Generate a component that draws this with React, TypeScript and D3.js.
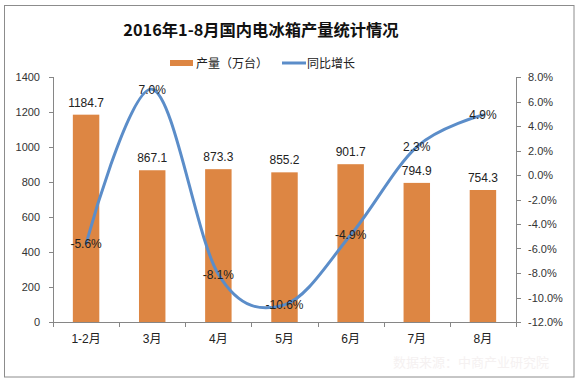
import React from "react";
import * as d3 from "d3";

const categories = ["1-2月", "3月", "4月", "5月", "6月", "7月", "8月"];
const output = [1184.7, 867.1, 873.3, 855.2, 901.7, 794.9, 754.3];
const growth = [-5.6, 7.0, -8.1, -10.6, -4.9, 2.3, 4.9];
const leftTicks = [0, 200, 400, 600, 800, 1000, 1200, 1400];
const rightTicks = [-12, -10, -8, -6, -4, -2, 0, 2, 4, 6, 8];
const title = "2016年1-8月国内电冰箱产量统计情况";
const legendBar = "产量（万台）";
const legendLine = "同比增长";
const source = "数据来源：中商产业研究院";

const W = 580, H = 383;
const L = 53, R = 516, T = 77, B = 322;
const barColor = "#DD8643";
const lineColor = "#5B8DC9";
const axisColor = "#868686";
const numFont = "'Liberation Sans', Arial, sans-serif";
const cjkFont = "'Liberation Sans', 'Noto Sans CJK SC', sans-serif";

export default function App() {
  const x = d3.scaleBand<string>().domain(categories).range([L, R]).paddingInner(0.6).paddingOuter(0.3);
  const band = d3.scaleBand<string>().domain(categories).range([L, R]);
  const yL = d3.scaleLinear().domain([0, 1400]).range([B, T]);
  const yR = d3.scaleLinear().domain([-12, 8]).range([B, T]);
  const pts: [number, number][] = growth.map((g, i) => [
    (band(categories[i]) as number) + band.bandwidth() / 2,
    yR(g),
  ]);
  const line = d3.line().curve(d3.curveCardinal.tension(0))(pts) || "";

  return (
    <svg width={W} height={H} style={{ position: "absolute", left: 0, top: 0, background: "#fff" }}>
      <rect x={4.5} y={5.5} width={569.5} height={371.5} fill="#fff" stroke="#8c8c8c" strokeWidth={1} />
      <text x={261} y={35.5} textAnchor="middle" fontFamily="'Noto Sans CJK SC', sans-serif" fontWeight="bold" fontSize={16.3} fill="#111">
        {title}
      </text>
      {/* legend */}
      <rect x={170} y={60} width={23} height={6} fill={barColor} />
      <text x={196} y={67.5} fontFamily={cjkFont} fontSize={12} fill="#222">{legendBar}</text>
      <line x1={282} x2={306} y1={63} y2={63} stroke={lineColor} strokeWidth={3} />
      <text x={307} y={67.5} fontFamily={cjkFont} fontSize={12} fill="#222">{legendLine}</text>

      {/* source watermark */}
      <text x={393} y={367} fontFamily="'Noto Sans CJK SC', sans-serif" fontSize={13} fill="#f5f1f1">{source}</text>

      {/* bars */}
      {output.map((v, i) => (
        <rect key={"b" + i} x={x(categories[i])} y={yL(v)} width={x.bandwidth()} height={B - yL(v)} fill={barColor} />
      ))}

      {/* left axis */}
      <line x1={L + 0.5} x2={L + 0.5} y1={T} y2={B} stroke={axisColor} />
      {leftTicks.map((t) => (
        <g key={"l" + t}>
          <line x1={L - 4} x2={L} y1={Math.round(yL(t)) + 0.5} y2={Math.round(yL(t)) + 0.5} stroke={axisColor} />
          <text x={40} y={yL(t) + 4} textAnchor="end" fontFamily={numFont} fontSize={11} fill="#333">{t}</text>
        </g>
      ))}
      {/* right axis */}
      <line x1={R + 0.5} x2={R + 0.5} y1={T} y2={B + 3} stroke={axisColor} />
      {rightTicks.map((t) => (
        <g key={"r" + t}>
          <line x1={R} x2={R + 5} y1={Math.round(yR(t)) + 0.5} y2={Math.round(yR(t)) + 0.5} stroke={axisColor} />
          <text x={528} y={yR(t) + 4} fontFamily={numFont} fontSize={11} fill="#333">{t.toFixed(1) + "%"}</text>
        </g>
      ))}
      {/* x axis */}
      <line x1={L - 1} x2={R + 1} y1={B + 0.5} y2={B + 0.5} stroke={axisColor} />
      {categories.concat(["__end"]).map((c, i) => {
        const xx = Math.round(L + i * band.bandwidth()) + 0.5;
        return <line key={"xt" + i} x1={xx} x2={xx} y1={B} y2={B + 5} stroke={axisColor} />;
      })}
      {categories.map((c) => (
        <text key={"xl" + c} x={(band(c) as number) + band.bandwidth() / 2} y={343} textAnchor="middle" fontFamily={cjkFont} fontSize={12} fill="#222">{c}</text>
      ))}

      {/* bar labels */}
      {output.map((v, i) => (
        <text key={"bl" + i} x={(band(categories[i]) as number) + band.bandwidth() / 2} y={yL(v) - 8} textAnchor="middle" fontFamily={numFont} fontSize={12} fill="#222">{v.toFixed(1)}</text>
      ))}

      {/* line */}
      <path d={line} fill="none" stroke={lineColor} strokeWidth={3} strokeLinecap="round" />
      {growth.map((g, i) => (
        <text key={"gl" + i} x={pts[i][0]} y={pts[i][1] + 4.3} textAnchor="middle" fontFamily={numFont} fontSize={12} fill="#222">{g.toFixed(1) + "%"}</text>
      ))}
    </svg>
  );
}
